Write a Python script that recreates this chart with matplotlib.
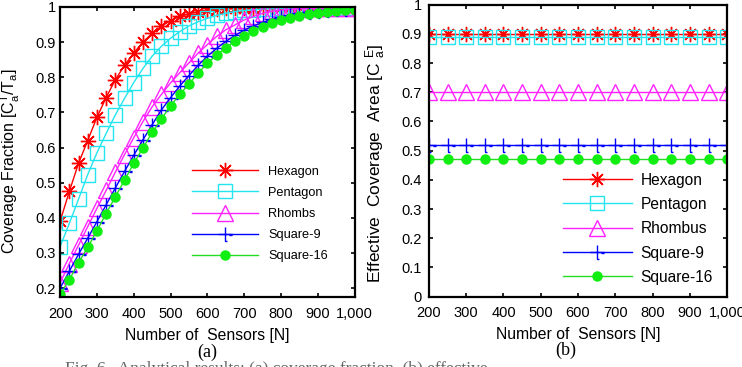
import numpy as np
import matplotlib
matplotlib.use('Agg')
import matplotlib.pyplot as plt
from matplotlib.path import Path

plt.rcParams['font.family'] = ['Liberation Sans', 'DejaVu Sans']
plt.rcParams['mathtext.default'] = 'regular'

# ------------------------------------------------------------
# data
# ------------------------------------------------------------
n_left = np.arange(200, 1001, 25)
n_right = np.arange(200, 1001, 50)

frac_hexagon = [0.390, 0.475, 0.555, 0.620, 0.686, 0.742, 0.793, 0.834, 0.869, 0.900,
                0.925, 0.945, 0.961, 0.973, 0.981, 0.987, 0.991, 0.994, 0.996, 0.997,
                0.998, 0.998, 0.999, 0.999, 0.999, 0.999, 0.999, 0.999, 0.999, 0.999,
                0.999, 0.999, 0.999]
frac_pentagon = [0.318, 0.384, 0.453, 0.523, 0.585, 0.640, 0.693, 0.740, 0.785, 0.825,
                 0.860, 0.888, 0.911, 0.930, 0.946, 0.958, 0.968, 0.976, 0.982, 0.987,
                 0.990, 0.992, 0.994, 0.995, 0.996, 0.997, 0.998, 0.998, 0.998, 0.998,
                 0.998, 0.998, 0.998]
frac_rhombus = [0.215, 0.270, 0.322, 0.375, 0.427, 0.478, 0.530, 0.580, 0.628, 0.674,
                0.716, 0.751, 0.784, 0.813, 0.841, 0.869, 0.893, 0.916, 0.935, 0.949,
                0.963, 0.973, 0.982, 0.988, 0.991, 0.993, 0.995, 0.996, 0.997, 0.997,
                0.998, 0.998, 0.998]
frac_square9 = [0.200, 0.248, 0.296, 0.342, 0.389, 0.437, 0.485, 0.532, 0.578, 0.622,
                0.665, 0.707, 0.742, 0.775, 0.805, 0.834, 0.860, 0.882, 0.902, 0.919,
                0.934, 0.946, 0.956, 0.965, 0.972, 0.978, 0.983, 0.986, 0.989, 0.991,
                0.993, 0.994, 0.995]
frac_square16 = [0.182, 0.224, 0.272, 0.316, 0.363, 0.412, 0.460, 0.507, 0.555, 0.599,
                 0.643, 0.681, 0.719, 0.751, 0.781, 0.812, 0.840, 0.863, 0.884, 0.903,
                 0.918, 0.931, 0.944, 0.954, 0.962, 0.969, 0.975, 0.980, 0.984, 0.987,
                 0.989, 0.991, 0.992]

eff_hexagon = [0.90] * len(n_right)
eff_pentagon = [0.89] * len(n_right)
eff_rhombus = [0.70] * len(n_right)
eff_square9 = [0.52] * len(n_right)
eff_square16 = [0.47] * len(n_right)

labels_left = ['Hexagon', 'Pentagon', 'Rhombs', 'Square-9', 'Square-16']
labels_right = ['Hexagon', 'Pentagon', 'Rhombus', 'Square-9', 'Square-16']
x_ticks = [200, 300, 400, 500, 600, 700, 800, 900, 1000]
x_ticklabels = ['200', '300', '400', '500', '600', '700', '800', '900', '1,000']

# plus-like marker with the little foot and dash
sq9_marker = Path([(0, -1), (0, 1), (-1, 0), (1, 0),
                   (0, -1), (0.35, -1), (0.55, -0.1), (0.95, -0.1)],
                  [Path.MOVETO, Path.LINETO] * 4)

styles = [
    dict(color='#ff0000', marker=(8, 2, 0), markersize=11, mfc='none', mec='#ff0000'),
    dict(color='#22e5f0', marker='s', markersize=10, mfc='none', mec='#22e5f0'),
    dict(color='#ff22ff', marker='^', markersize=11, mfc='none', mec='#ff22ff'),
    dict(color='#0000ff', marker=sq9_marker, markersize=10, mfc='none', mec='#0000ff'),
    dict(color='#22dd22', marker='o', markersize=6.5, mfc='#11ee11', mec='#11ee11'),
]


def style_axes(ax, ylim, ypad):
    ax.set_xlim(200, 1000)
    ax.set_ylim(*ylim)
    ax.set_xticks(x_ticks)
    ax.set_xticklabels(x_ticklabels)
    ax.tick_params(direction='in', top=True, right=True, length=3, width=1.2,
                   labelsize=10.5, colors='black')
    ax.tick_params(axis='x', pad=7)
    ax.tick_params(axis='y', pad=ypad)
    for s in ax.spines.values():
        s.set_linewidth(1.6)
    ax.set_xlabel('Number of  Sensors [N]', fontsize=11.3, labelpad=5)


fig = plt.figure(figsize=(7.42, 3.67), dpi=100)

# (a) coverage fraction
ax1 = fig.add_axes([0.081, 0.191, 0.397, 0.790])
for ys, lab, st in zip([frac_hexagon, frac_pentagon, frac_rhombus, frac_square9, frac_square16],
                       labels_left, styles):
    ax1.plot(n_left, ys, lw=1, mew=1, label=lab, **st)
style_axes(ax1, (0.175, 1.0), 3)
ax1.set_yticks([0.2, 0.3, 0.4, 0.5, 0.6, 0.7, 0.8, 0.9, 1.0])
ax1.set_yticklabels(['0.2', '0.3', '0.4', '0.5', '0.6', '0.7', '0.8', '0.9', '1'])
ax1.set_ylabel('Coverage Fraction [C$_a^T$/T$_a$]', fontsize=11.5)
ax1.yaxis.set_label_coords(-0.13, 0.47)
ax1.legend(loc='upper left', bbox_to_anchor=(0.447, 0.452), frameon=False, fontsize=9.2,
           handlelength=5.2, handletextpad=0.78, labelspacing=0.71, borderpad=0,
           borderaxespad=0)

# (b) effective coverage area
ax2 = fig.add_axes([0.578, 0.192, 0.402, 0.795])
for ys, lab, st in zip([eff_hexagon, eff_pentagon, eff_rhombus, eff_square9, eff_square16],
                       labels_right, styles):
    ax2.plot(n_right, ys, lw=1, mew=1, label=lab, **st)
style_axes(ax2, (0, 1.0), 5)
ax2.set_yticks(np.arange(0, 1.01, 0.1))
ax2.set_yticklabels(['0', '0.1', '0.2', '0.3', '0.4', '0.5', '0.6', '0.7', '0.8', '0.9', '1'])
ax2.set_ylabel('Effective  Coverage  Area [C $_a^E$]', fontsize=12.5)
ax2.yaxis.set_label_coords(-0.138, 0.455)
ax2.legend(loc='upper left', bbox_to_anchor=(0.45, 0.425), frameon=False, fontsize=11.2,
           handlelength=4.4, handletextpad=0.56, labelspacing=0.6, borderpad=0,
           borderaxespad=0)

fig.text(0.279, 1 - 352 / 367, '(a)', ha='center', va='center', fontsize=13,
         family=['Liberation Serif'])
fig.text(0.762, 1 - 350 / 367, '(b)', ha='center', va='center', fontsize=13,
         family=['Liberation Serif'])
fig.text(0.087, 1 - 361 / 367, 'Fig. 6.  Analytical results: (a) coverage fraction, (b) effective',
         ha='left', va='top', fontsize=12.5, color='#666666', family=['Liberation Serif'])

fig.savefig('out.png', dpi=100)
